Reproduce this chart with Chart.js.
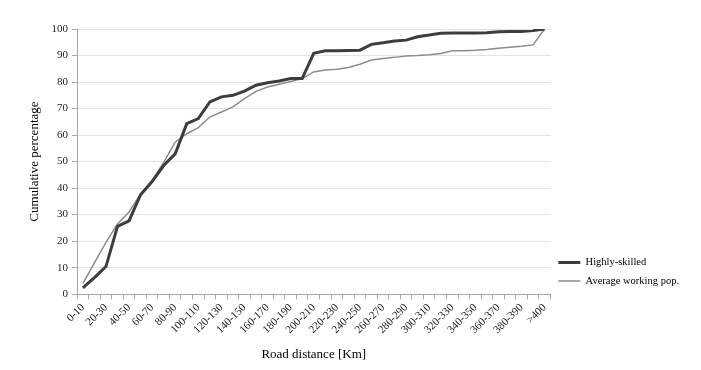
<!DOCTYPE html>
<html>
<head>
<meta charset="utf-8">
<script src="https://cdn.jsdelivr.net/npm/chart.js@4.4.0/dist/chart.umd.min.js"></script>
<style>
html,body{margin:0;padding:0;background:#fff;}
#wrap{width:701px;height:370px;}
</style>
</head>
<body>
<div id="wrap"><canvas id="c" width="701" height="370"></canvas></div>
<script>
const categories = ["0-10","10-20","20-30","30-40","40-50","50-60","60-70","70-80","80-90","90-100",
  "100-110","110-120","120-130","130-140","140-150","150-160","160-170","170-180","180-190","190-200",
  "200-210","210-220","220-230","230-240","240-250","250-260","260-270","270-280","280-290","290-300",
  "300-310","310-320","320-330","330-340","340-350","350-360","360-370","370-380","380-390","390-400",">400"];
const highlySkilled = [2.4, 6.2, 10.4, 25.6, 27.6, 37.5, 42.5, 48.5, 52.9, 64.3,
  66.2, 72.5, 74.4, 75.0, 76.6, 78.8, 79.7, 80.4, 81.3, 81.3,
  90.8, 91.8, 91.8, 91.9, 92.0, 94.2, 94.8, 95.5, 95.8, 97.1,
  97.7, 98.4, 98.5, 98.5, 98.5, 98.6, 99.0, 99.1, 99.1, 99.4, 100];
const averagePop = [4.1, 11.8, 19.5, 26.5, 31.0, 37.8, 42.8, 49.7, 57.3, 60.5,
  62.8, 66.8, 68.7, 70.6, 73.7, 76.5, 78.1, 79.2, 80.2, 81.3,
  83.8, 84.5, 84.8, 85.5, 86.7, 88.3, 88.9, 89.3, 89.8, 90.0,
  90.3, 90.8, 91.8, 91.8, 92.0, 92.3, 92.7, 93.1, 93.5, 94.0, 100];
const yTicks = [0,10,20,30,40,50,60,70,80,90,100];

const serif = "'Liberation Serif', 'Times New Roman', serif";

new Chart(document.getElementById('c'), {
  type: 'line',
  data: {
    labels: categories,
    datasets: [
      { label: 'Highly-skilled', data: highlySkilled, borderColor: '#3d3d3d', backgroundColor: '#3d3d3d',
        borderWidth: 3, pointRadius: 0, tension: 0, fill: false },
      { label: 'Average working pop.', data: averagePop, borderColor: '#8c8c8c', backgroundColor: '#8c8c8c',
        borderWidth: 1.5, pointRadius: 0, tension: 0, fill: false }
    ]
  },
  options: {
    responsive: false,
    devicePixelRatio: 1,
    animation: false,
    layout: { padding: { left: 27, top: 29, right: 12, bottom: 8 } },
    plugins: {
      tooltip: { enabled: false },
      legend: {
        position: 'right',
        align: 'end',
        fullSize: false,
        labels: {
          boxWidth: 22, boxHeight: 0, padding: 8,
          color: '#000', font: { family: serif, size: 10.5, lineHeight: 0.9 }
        }
      }
    },
    scales: {
      x: {
        type: 'category',
        offset: true,
        grid: { offset: true, drawOnChartArea: false, drawTicks: true, tickLength: 5, color: '#a6a6a6' },
        border: { color: '#a6a6a6', width: 1 },
        ticks: {
          autoSkip: false, maxRotation: 45, minRotation: 45, padding: 2,
          color: '#222', font: { family: serif, size: 11 },
          callback: function(v, i) { return i % 2 === 0 ? categories[i] : ''; }
        },
        title: { display: true, text: 'Road distance [Km]', color: '#000',
          font: { family: serif, size: 13 }, padding: { top: 8, bottom: 0 } }
      },
      y: {
        min: 0, max: 100,
        afterBuildTicks: function(axis) { axis.ticks = yTicks.map(v => ({ value: v })); },
        grid: { color: '#e3e3e3', tickLength: 5, drawTicks: true,
          tickColor: '#a6a6a6' },
        border: { color: '#a6a6a6', width: 1 },
        ticks: { color: '#222', font: { family: serif, size: 11 }, padding: 4 },
        title: { display: true, text: 'Cumulative percentage', color: '#000',
          font: { family: serif, size: 13 }, padding: { top: 0, bottom: 5 } }
      }
    }
  }
});
</script>
</body>
</html>
